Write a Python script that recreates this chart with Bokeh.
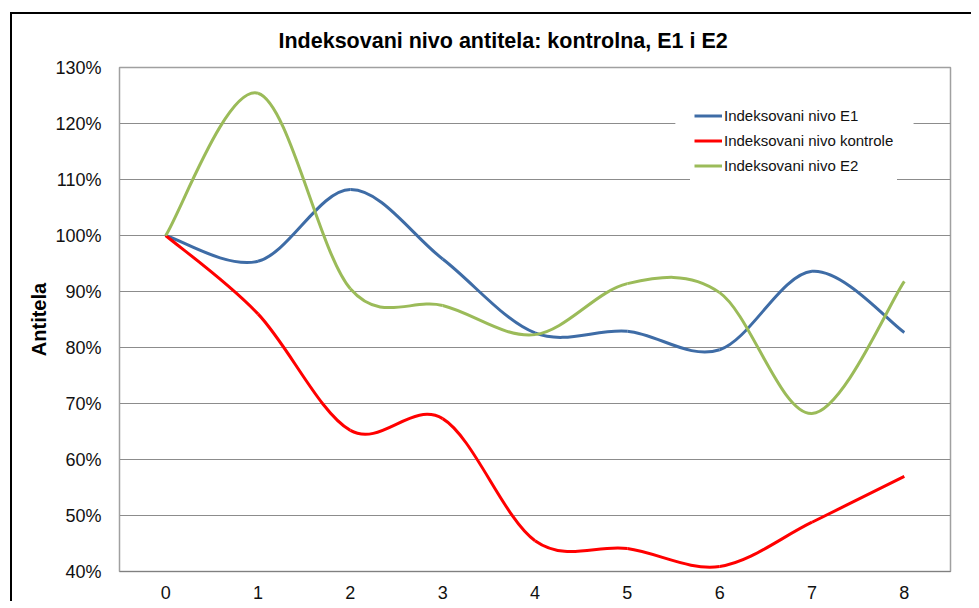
from bokeh.plotting import figure
from bokeh.models import (Legend, LegendItem, NumeralTickFormatter, FixedTicker,
                          Range1d, BoxAnnotation)
from bokeh.embed import file_html
from bokeh.resources import INLINE

# ---- data ----
x_vals = [0, 1, 2, 3, 4, 5, 6, 7, 8]
e1 = [1.000, 0.954, 1.082, 0.958, 0.826, 0.829, 0.796, 0.936, 0.827]
kontrola = [1.000, 0.860, 0.652, 0.673, 0.455, 0.441, 0.409, 0.488, 0.570]
e2 = [1.000, 1.254, 0.905, 0.875, 0.823, 0.914, 0.898, 0.682, 0.918]

series_names = ["Indeksovani nivo E1", "Indeksovani nivo kontrole", "Indeksovani nivo E2"]
series_values = [e1, kontrola, e2]
series_colors = ["#3E6CA6", "#FF0000", "#9BBB59"]

y_ticks = [0.4, 0.5, 0.6, 0.7, 0.8, 0.9, 1.0, 1.1, 1.2, 1.3]

FONT = "Liberation Sans"


def smooth_segments(xs, ys, t=1.0 / 6.0):
    """Catmull-Rom style Bezier control points (spreadsheet 'smoothed line')."""
    n = len(xs)
    out = dict(x0=[], y0=[], x1=[], y1=[], cx0=[], cy0=[], cx1=[], cy1=[])
    for i in range(n - 1):
        a = max(i - 1, 0)
        d = min(i + 2, n - 1)
        out["x0"].append(xs[i]); out["y0"].append(ys[i])
        out["x1"].append(xs[i + 1]); out["y1"].append(ys[i + 1])
        out["cx0"].append(xs[i] + (xs[i + 1] - xs[a]) * t)
        out["cy0"].append(ys[i] + (ys[i + 1] - ys[a]) * t)
        out["cx1"].append(xs[i + 1] - (xs[d] - xs[i]) * t)
        out["cy1"].append(ys[i + 1] - (ys[d] - ys[i]) * t)
    return out


p = figure(frame_width=831, frame_height=504,
           x_range=Range1d(-0.5, 8.5), y_range=Range1d(0.4, 1.3),
           output_backend="svg", toolbar_location=None,
           min_border_left=107, min_border_top=53, min_border_right=21, min_border_bottom=29,
           background_fill_color="white", border_fill_color="white")
p.styles = {"border-left": "2px solid #000000", "border-top": "2px solid #000000",
            "margin-left": "10px", "margin-top": "12px"}

p.title.text = "Indeksovani nivo antitela: kontrolna, E1 i E2"
p.title.text_font = FONT
p.title.text_font_size = "21.5px"
p.title.text_font_style = "bold"
p.title.text_color = "#000000"
p.title.align = "left"
p.title.offset = 159
p.title.standoff = 25
p.title.vertical_align = "top"

p.outline_line_color = "#A0A0A0"
p.outline_line_width = 1.5

# axes
p.xaxis.ticker = FixedTicker(ticks=x_vals)
p.yaxis.ticker = FixedTicker(ticks=y_ticks)
p.yaxis.formatter = NumeralTickFormatter(format="0%")
for ax in (p.xaxis[0], p.yaxis[0]):
    ax.major_tick_line_color = None
    ax.minor_tick_line_color = None
    ax.major_tick_in = 0
    ax.major_tick_out = 0
    ax.minor_tick_out = 0
    ax.major_label_text_font = FONT
    ax.major_label_text_font_size = "18px"
    ax.major_label_text_color = "#111111"
p.xaxis.axis_line_color = "#808080"
p.yaxis.axis_line_color = "#A0A0A0"
p.xaxis.major_label_standoff = 14
p.yaxis.major_label_standoff = 18
p.yaxis.axis_label = "Antitela"
p.yaxis.axis_label_text_font = FONT
p.yaxis.axis_label_text_font_size = "20px"
p.yaxis.axis_label_text_font_style = "bold"
p.yaxis.axis_label_text_color = "#000000"
p.yaxis.axis_label_standoff = 2

p.xgrid.grid_line_color = None
p.ygrid.grid_line_color = "#8C8C8C"
p.ygrid.grid_line_width = 1

# white box behind legend (covers the gridline like the original)
p.add_layout(BoxAnnotation(left=5.52, right=8.10, bottom=1.104, top=1.241,
                           fill_color="white", fill_alpha=1.0, line_alpha=0,
                           level="underlay"))

items = []
for name, vals, col in zip(series_names, series_values, series_colors):
    seg = smooth_segments(x_vals, vals)
    r = p.bezier(x0="x0", y0="y0", x1="x1", y1="y1", cx0="cx0", cy0="cy0",
                 cx1="cx1", cy1="cy1", source=seg, line_color=col, line_width=3)
    items.append(LegendItem(label=name, renderers=[r]))

legend = Legend(items=items, location=(571, 391))
legend.background_fill_color = "white"
legend.background_fill_alpha = 1.0
legend.border_line_alpha = 0
legend.padding = 4
legend.margin = 0
legend.spacing = 4
legend.glyph_width = 28
legend.glyph_height = 21
legend.label_height = 21
legend.label_standoff = 2
legend.label_text_font = FONT
legend.label_text_font_size = "15px"
legend.label_text_color = "#111111"
p.add_layout(legend, "center")

open("out.html", "w").write(file_html(p, INLINE))
